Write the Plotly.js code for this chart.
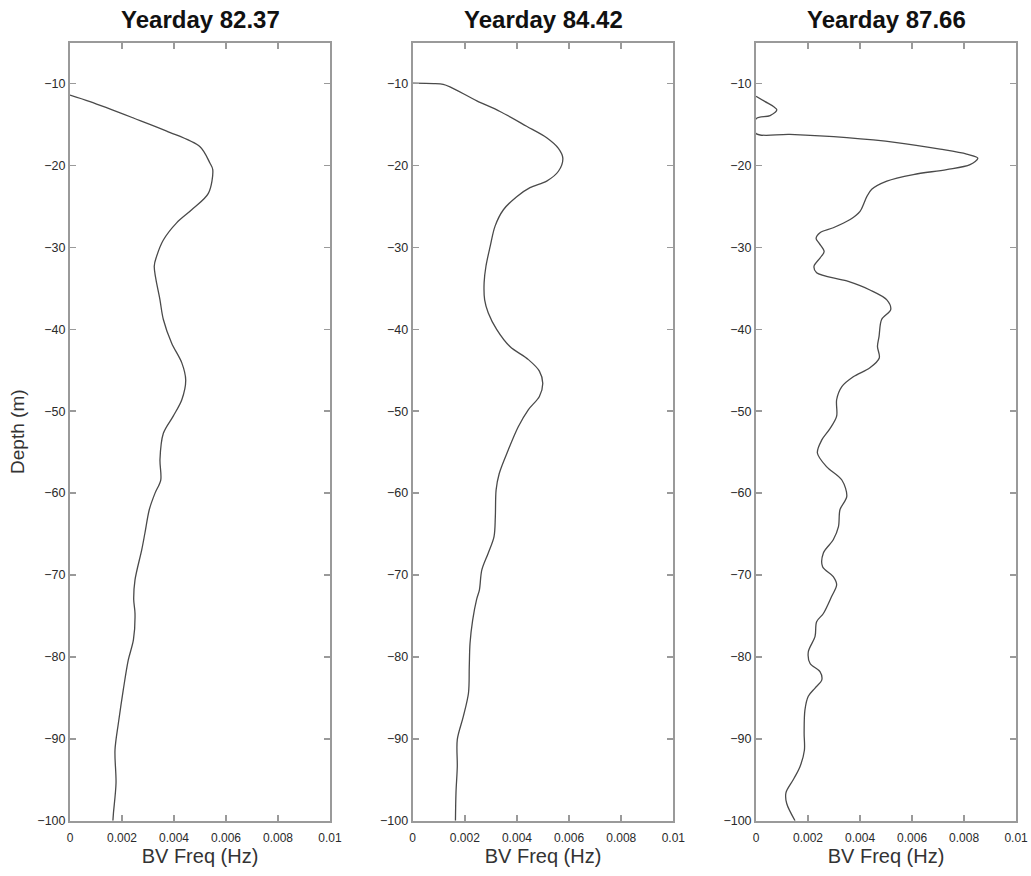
<!DOCTYPE html>
<html>
<head>
<meta charset="utf-8">
<script src="https://cdn.plot.ly/plotly-3.0.1.min.js"></script>
<style>html,body{margin:0;padding:0;background:#fff;}#chart{width:1031px;height:876px;}</style>
</head>
<body>
<div id="chart"></div>
<script>
// Panel titles
const panelTitles = ["Yearday 82.37", "Yearday 84.42", "Yearday 87.66"];
const xTitle = "BV Freq (Hz)";
const yTitle = "Depth (m)";

// Yearday 82.37
const depth82 = [-11.4, -12.2, -14.2, -15.8, -17.7, -19.7, -20.5, -23.4, -25.4, -27.0, -29.1, -31.1, -32.3, -36.4,
  -38.8, -41.7, -44.1, -46.2, -48.6, -50.6, -52.7, -55.9, -58.4, -60.0, -62.0, -64.9, -66.9, -70.6, -73.0,
  -74.7, -77.9, -80.4, -84.0, -88.1, -91.4, -95.4, -99.1, -100];
const bv82 = [0, 0.00077, 0.00244, 0.00372, 0.0050, 0.00538, 0.00549, 0.00532, 0.00468, 0.0041, 0.00359, 0.00333, 0.00324, 0.00346,
  0.00359, 0.00391, 0.0043, 0.00445, 0.0043, 0.00397, 0.00359, 0.00346, 0.00349, 0.00327, 0.00305, 0.00288, 0.00276, 0.0025, 0.00245,
  0.0025, 0.00244, 0.00224, 0.00205, 0.00186, 0.00173, 0.00177, 0.00167, 0.00165];

// Yearday 84.42
const depth84 = [-9.95, -10.0, -10.1, -10.4, -12.1, -13.4, -15.2, -16.6, -17.9, -19.1, -20.7, -21.9, -22.7, -23.8, -25.4, -27.4, -29.9, -32.3, -34.3, -36.4,
  -38.0, -40.0, -42.1, -43.7, -45.1, -46.6, -48.2, -49.8, -51.9, -54.7, -57.6, -59.6, -62.9, -65.3, -67.3, -69.4, -71.8, -73.0,
  -75.5, -78.3, -81.2, -84.4, -87.3, -90.1, -93.4, -96.6, -100];
const bv84 = [0, 0.0008, 0.00117, 0.00143, 0.00246, 0.00335, 0.00437, 0.00514, 0.00559, 0.00576, 0.00559, 0.00514, 0.0045, 0.00399, 0.00348, 0.00316, 0.00297, 0.00281, 0.00274, 0.00276,
  0.0029, 0.00322, 0.00373, 0.00444, 0.00486, 0.00499, 0.00486, 0.00444, 0.00405, 0.00367, 0.00332, 0.0032, 0.00317, 0.00312, 0.0029, 0.00265, 0.00256, 0.00245,
  0.0023, 0.0022, 0.00217, 0.00214, 0.00194, 0.00171, 0.00171, 0.00166, 0.00164];

// Yearday 87.66
const depth87 = [-11.55, -12.2, -12.8, -13.2, -13.9, -14.3, -16.1, -16.2, -16.6, -17.2, -18.0, -18.6, -19.1, -19.9, -20.5, -21.1, -21.9, -22.9, -23.8, -24.6, -25.6, -26.6, -27.6, -28.2, -28.9, -29.5, -30.5, -31.3, -32.3, -33.1, -34.1, -35.2, -36.4,
  -37.6, -38.8, -40.9, -42.1, -43.5, -44.7, -45.8, -47.0, -48.6, -50.6, -52.1, -53.5, -55.1, -56.8, -58.4, -60.4, -62.0, -64.1, -65.7, -67.3, -69.0, -70.2, -71.2, -72.6,
  -74.7, -75.7, -77.5, -79.4, -80.8, -81.8, -82.8, -83.8, -84.8, -86.5, -89.3, -91.4, -93.4, -95.0, -96.6, -97.9, -100];
const bv87 = [0, 0.00035, 0.00067, 0.0008, 0.00054, 0, 0, 0.0013, 0.00349, 0.00541, 0.00708, 0.0081, 0.00853, 0.00823, 0.00733, 0.00605, 0.00503, 0.00445, 0.00426, 0.00415, 0.004, 0.00362, 0.00297, 0.00246, 0.00231, 0.00243, 0.00262, 0.00246, 0.00223, 0.00233, 0.00349, 0.00438, 0.00503,
  0.00518, 0.00483, 0.00473, 0.00467, 0.00474, 0.00438, 0.00374, 0.0033, 0.0031, 0.0031, 0.00285, 0.00253, 0.00236, 0.00272, 0.0033, 0.00349, 0.00323, 0.00317, 0.00297, 0.00259, 0.00256, 0.00297, 0.0031, 0.00291,
  0.00259, 0.00233, 0.00227, 0.00201, 0.00208, 0.00246, 0.00253, 0.00227, 0.00201, 0.00188, 0.00185, 0.00186, 0.00169, 0.00143, 0.00115, 0.00118, 0.0015];

const xTickVals = [0, 0.002, 0.004, 0.006, 0.008, 0.01];
const xTickText = ["0", "0.002", "0.004", "0.006", "0.008", "0.01"];
const yTickVals = [-10, -20, -30, -40, -50, -60, -70, -80, -90, -100];

const series = [[bv82, depth82], [bv84, depth84], [bv87, depth87]];
const xDomains = [[0.0679, 0.3201], [0.4003, 0.6531], [0.7333, 0.9855]];
const yDomain = [0.0631, 0.9513];

const lineStyle = {color: "#4a4a4a", width: 1.3, shape: "spline", smoothing: 0.9};
const axisColor = "#9a9a9a";
const fontFam = "Liberation Sans, Arial, Helvetica, sans-serif";

const traces = series.map((s, i) => ({
  x: s[0], y: s[1], type: "scatter", mode: "lines",
  line: lineStyle, showlegend: false, hoverinfo: "skip",
  xaxis: i === 0 ? "x" : "x" + (i + 1),
  yaxis: i === 0 ? "y" : "y" + (i + 1),
  cliponaxis: true
}));

const layout = {
  width: 1031, height: 876,
  margin: {l: 0, r: 0, t: 0, b: 0},
  paper_bgcolor: "#fff", plot_bgcolor: "#fff",
  font: {family: fontFam, color: "#333"},
  annotations: []
};

for (let i = 0; i < 3; i++) {
  const sx = i === 0 ? "" : String(i + 1);
  layout["xaxis" + sx] = {
    domain: xDomains[i], anchor: "y" + sx, range: [0, 0.01],
    tickvals: xTickVals, ticktext: xTickText,
    ticks: "inside", ticklen: 6, tickwidth: 1.5, tickcolor: axisColor,
    showline: true, linecolor: axisColor, linewidth: 2, mirror: "ticks",
    showgrid: false, zeroline: false, fixedrange: true,
    tickfont: {size: 12, color: "#2a2a2a", family: fontFam},
    ticklabelstandoff: 5,
    title: {text: xTitle, font: {size: 20, color: "#333", family: fontFam}, standoff: 2}
  };
  layout["yaxis" + sx] = {
    domain: yDomain, anchor: "x" + sx, range: [-100, -5],
    tickvals: yTickVals,
    ticks: "inside", ticklen: 6, tickwidth: 1.5, tickcolor: axisColor,
    showline: true, linecolor: axisColor, linewidth: 2, mirror: "ticks",
    showgrid: false, zeroline: false, fixedrange: true,
    tickfont: {size: 12.5, color: "#2a2a2a", family: fontFam},
    title: i === 0 ? {text: yTitle, font: {size: 19, color: "#333", family: fontFam}, standoff: 8} : {text: ""}
  };
  layout.annotations.push({
    text: "<b>" + panelTitles[i] + "</b>",
    xref: "paper", yref: "paper",
    x: (xDomains[i][0] + xDomains[i][1]) / 2, y: 1 - 20 / 876,
    xanchor: "center", yanchor: "middle", showarrow: false,
    font: {size: 24, color: "#111", family: fontFam}
  });
}

Plotly.newPlot("chart", traces, layout, {displayModeBar: false, staticPlot: true});
</script>
</body>
</html>
